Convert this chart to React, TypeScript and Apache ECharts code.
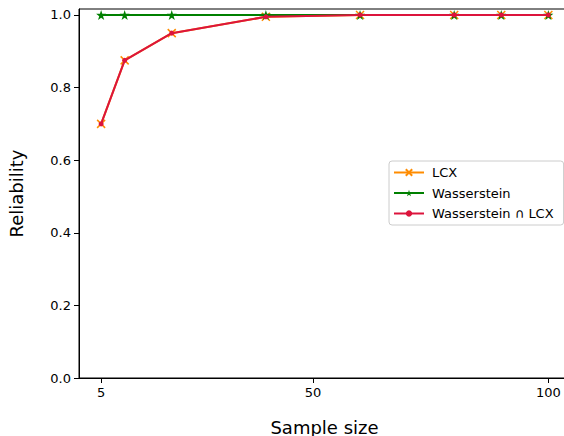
import React, { useEffect, useRef } from "react";
import * as echarts from "echarts";

const sampleSizes = [5, 10, 20, 40, 60, 80, 90, 100];
const lcxValues = [0.7, 0.875, 0.95, 0.995, 1.0, 1.0, 1.0, 1.0];
const wassersteinValues = [1.0, 1.0, 1.0, 1.0, 1.0, 1.0, 1.0, 1.0];
const intersectionValues = [0.7, 0.875, 0.95, 0.995, 1.0, 1.0, 1.0, 1.0];
const xTicks = [5, 50, 100];
const yTicks = [0, 0.2, 0.4, 0.6, 0.8, 1.0];
const seriesNames = ["LCX", "Wasserstein", "Wasserstein ∩ LCX"];

const FONT = "DejaVu Sans";
const X_PATH = "path://M0,0L10,10M10,0L0,10";
const STAR_PATH =
  "path://M0,-100L22.5,-30.9L95.1,-30.9L36.3,11.8L58.8,80.9L0,38.2L-58.8,80.9L-36.3,11.8L-95.1,-30.9L-22.5,-30.9Z";

function pairs(ys: number[]) {
  return sampleSizes.map((x, i) => [x, ys[i]]);
}

export default function App() {
  const ref = useRef<HTMLDivElement>(null);
  useEffect(() => {
    if (!ref.current) return;
    const chart = echarts.init(ref.current, undefined, { renderer: "svg" });
    chart.setOption({
      animation: false,
      backgroundColor: "#ffffff",
      textStyle: { fontFamily: FONT },
      grid: {
        left: 79,
        top: 9,
        width: 491,
        height: 369,
        outerBoundsMode: "none",
        containLabel: false,
        show: true,
        borderColor: "#000000",
        borderWidth: 1,
        backgroundColor: "transparent",
      },
      legend: {
        orient: "vertical",
        left: 389,
        top: 161,
        itemWidth: 30,
        itemHeight: 8,
        itemGap: 7.5,
        padding: [5, 10, 5, 4],
        backgroundColor: "#ffffff",
        borderColor: "#cccccc",
        borderWidth: 1,
        borderRadius: 3,
        textStyle: { fontFamily: FONT, fontSize: 13, color: "#000000", padding: [0, 0, 0, 3] },
        data: seriesNames,
      },
      xAxis: {
        type: "value",
        min: 0.3,
        max: 104.6,
        name: "Sample size",
        nameLocation: "middle",
        nameGap: 40,
        nameTextStyle: { fontFamily: FONT, fontSize: 18, color: "#000000" },
        splitLine: { show: false },
        axisLine: { show: true, lineStyle: { color: "#000000", width: 1 } },
        axisTick: {
          show: true,
          length: 5,
          lineStyle: { color: "#000000" },
          customValues: xTicks,
        },
        axisLabel: {
          fontFamily: FONT,
          fontSize: 13,
          color: "#000000",
          margin: 8,
          customValues: xTicks,
        },
      },
      yAxis: {
        type: "value",
        min: 0,
        max: 1.0165,
        name: "Reliability",
        nameLocation: "middle",
        nameGap: 54,
        nameTextStyle: { fontFamily: FONT, fontSize: 18, color: "#000000" },
        splitLine: { show: false },
        axisLine: { show: true, lineStyle: { color: "#000000", width: 1 } },
        axisTick: {
          show: true,
          length: 5,
          lineStyle: { color: "#000000" },
          customValues: yTicks,
        },
        axisLabel: {
          fontFamily: FONT,
          fontSize: 13,
          color: "#000000",
          margin: 8,
          customValues: yTicks,
          formatter: (v: number) => v.toFixed(1),
        },
      },
      series: [
        {
          name: seriesNames[0],
          type: "line",
          data: pairs(lcxValues),
          symbol: X_PATH,
          symbolSize: 8,
          lineStyle: { color: "#ff8c00", width: 2 },
          itemStyle: { color: "#ff8c00", borderColor: "#ff8c00", borderWidth: 1.5 },
          z: 2,
        },
        {
          name: seriesNames[1],
          type: "line",
          data: pairs(wassersteinValues),
          symbol: STAR_PATH,
          symbolSize: 10,
          lineStyle: { color: "#008000", width: 2 },
          itemStyle: { color: "#008000", borderColor: "#008000", borderWidth: 0 },
          z: 3,
        },
        {
          name: seriesNames[2],
          type: "line",
          data: pairs(intersectionValues),
          symbol: "circle",
          symbolSize: 5,
          lineStyle: { color: "#dc143c", width: 2 },
          itemStyle: { color: "#dc143c", borderColor: "#dc143c", borderWidth: 0 },
          z: 4,
        },
      ],
    });
    return () => chart.dispose();
  }, []);
  return (
    <div
      ref={ref}
      style={{ position: "fixed", left: 0, top: 0, width: 564, height: 436 }}
    />
  );
}
